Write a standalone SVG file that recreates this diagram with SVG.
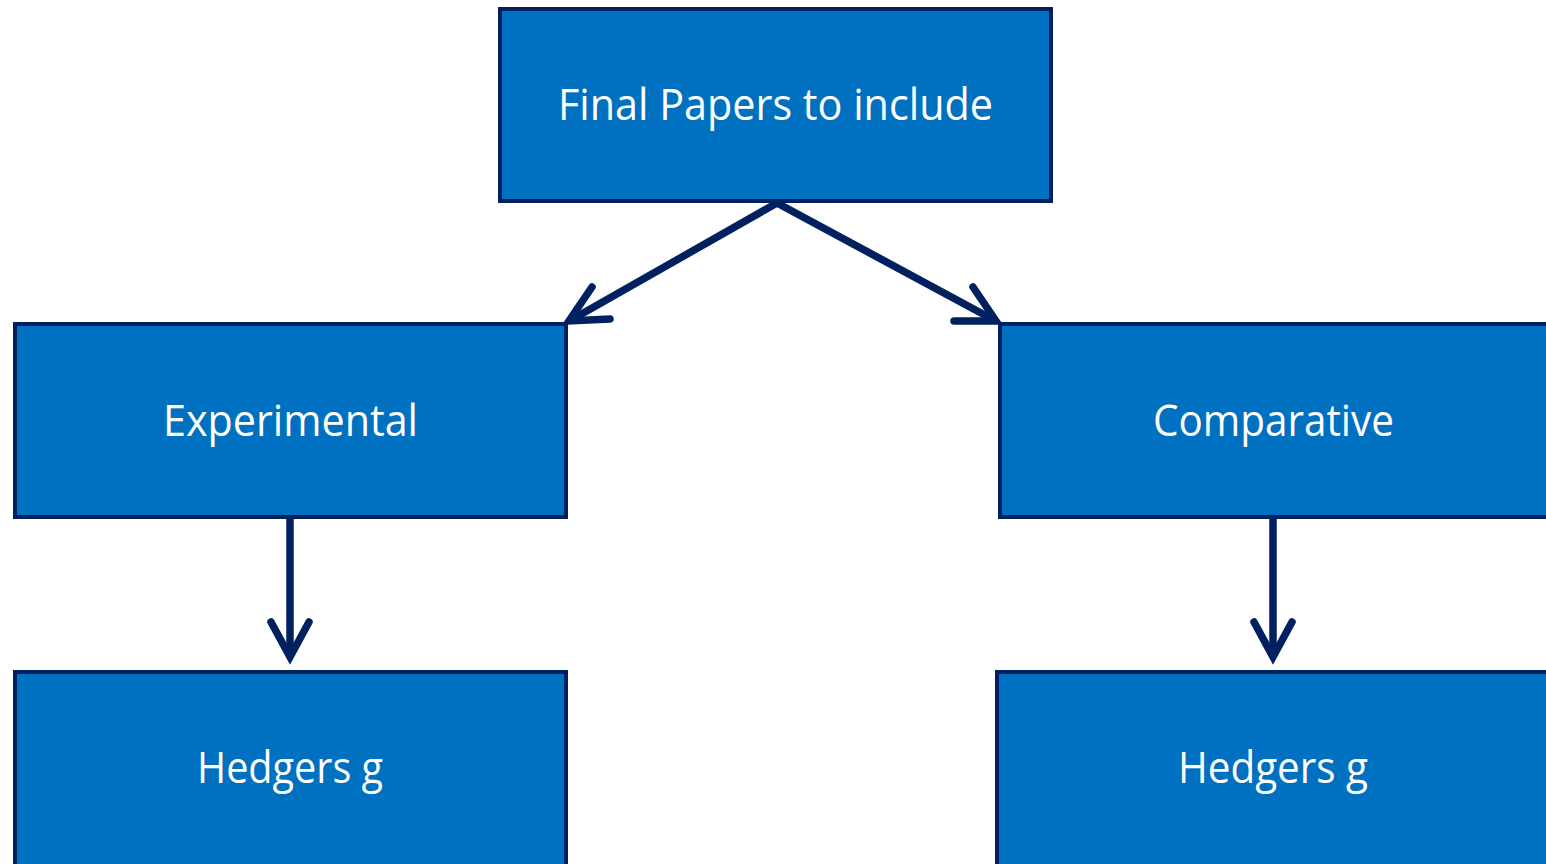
<svg xmlns="http://www.w3.org/2000/svg" width="1546" height="864" viewBox="0 0 1546 864">
<style>
.box{fill:#0070C0;stroke:#002060;stroke-width:4}
.lbl{fill:#FFFFFF;font-family:"Open Sans","Noto Sans",sans-serif;font-size:43px;text-anchor:middle}
.conn{fill:none;stroke:#002060;stroke-width:7.5;stroke-linecap:round;stroke-linejoin:miter}
</style>
<rect width="1546" height="864" fill="#FFFFFF"/>
<g id="connectors">
<path class="conn" d="M777,203 L571,320"/>
<path class="conn" d="M592,287 L569,321 L610,319"/>
<path class="conn" d="M777,203 L994,320"/>
<path class="conn" d="M973,287 L996,321 L954,321"/>
<path class="conn" d="M290,519 L290,655"/>
<path class="conn" d="M271,622 L290,657 L309,622"/>
<path class="conn" d="M1273,519 L1273,655"/>
<path class="conn" d="M1254,622 L1273,657 L1292,622"/>
</g>
<g id="node-final">
<rect class="box" x="500" y="9" width="551" height="192"/>
<text class="lbl" x="775.5" y="120" textLength="435" lengthAdjust="spacingAndGlyphs">Final Papers to include</text>
</g>
<g id="node-experimental">
<rect class="box" x="15" y="324" width="551" height="193"/>
<text class="lbl" x="290.5" y="436" textLength="255" lengthAdjust="spacingAndGlyphs">Experimental</text>
</g>
<g id="node-comparative">
<rect class="box" x="1000" y="324" width="560" height="193"/>
<text class="lbl" x="1273.5" y="436" textLength="241" lengthAdjust="spacingAndGlyphs">Comparative</text>
</g>
<g id="node-hedgers-left">
<rect class="box" x="15" y="672" width="551" height="210"/>
<text class="lbl" x="290" y="783" textLength="186" lengthAdjust="spacingAndGlyphs">Hedgers g</text>
</g>
<g id="node-hedgers-right">
<rect class="box" x="997" y="672" width="563" height="210"/>
<text class="lbl" x="1273" y="783" textLength="190" lengthAdjust="spacingAndGlyphs">Hedgers g</text>
</g>
</svg>
